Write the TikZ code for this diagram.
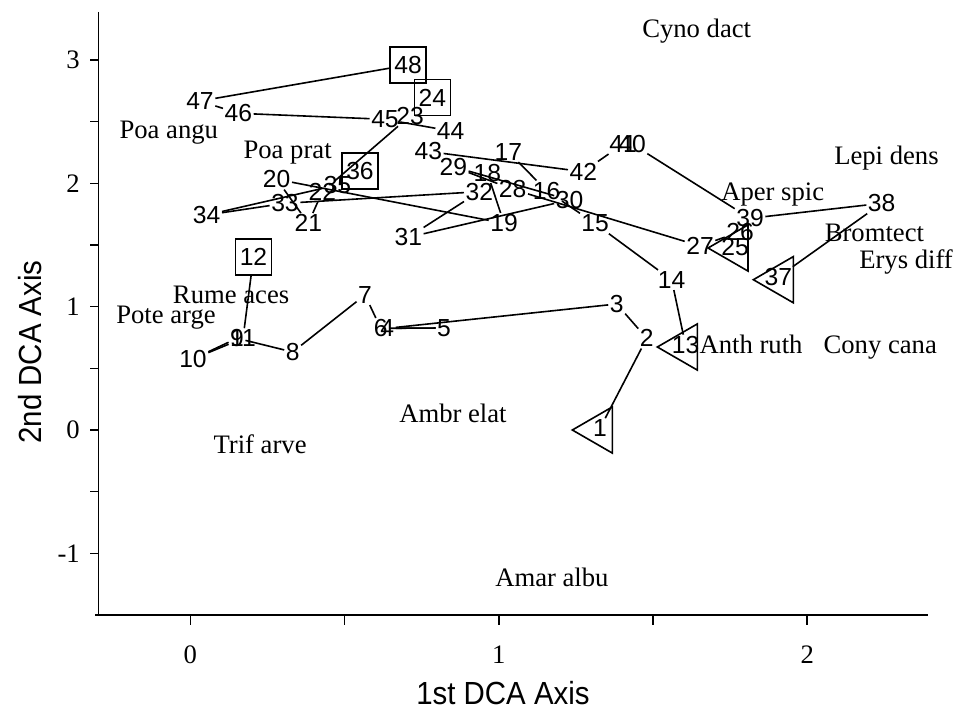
\documentclass[tikz,border=0pt]{standalone}
\usepackage{fontspec}
\setmainfont{Liberation Serif}
\setsansfont{Liberation Sans}
\newfontfamily\axisfont[FakeStretch=0.92]{Liberation Sans}
\usetikzlibrary{shapes.geometric}
\begin{document}
\begin{tikzpicture}[x=0.75pt,y=-0.75pt,
  num/.style={font=\sffamily\fontsize{18.5}{18.5}\selectfont, inner sep=1pt},
  sq/.style={draw, line width=1.2pt, minimum size=27pt, inner sep=0pt},
  tri/.style={draw, line width=1.2pt, regular polygon, regular polygon sides=3, shape border rotate=90, minimum size=40pt, inner sep=0pt},
  spc/.style={font=\rmfamily\fontsize{20}{20}\selectfont, inner sep=0pt, anchor=base west},
  ticklab/.style={font=\rmfamily\fontsize{20}{20}\selectfont, inner sep=0pt},
  axtitle/.style={font=\axisfont\fontsize{24}{24}\selectfont, inner sep=0pt},
  conn/.style={line width=1.2pt},
  axisline/.style={line width=1.1pt}]
\useasboundingbox (0,0) rectangle (957,713);

% axes
\coordinate (ytop) at (98.5,12);
\coordinate (origin) at (98.5,615);
\coordinate (xleft) at (95,615);
\coordinate (xright) at (928,615);
\draw[axisline] (ytop) -- (origin);
\draw[axisline] (xleft) -- (xright);
\foreach \k in {0,...,8} {
  \coordinate (yt\k) at (98.5,60+61.67*\k);
  \coordinate (ytl\k) at (90,60+61.67*\k);
  \draw[axisline] (yt\k) -- (ytl\k);
}
\foreach \k in {0,...,4} {
  \coordinate (xt\k) at (190.4+154.2*\k,615);
  \coordinate (xtl\k) at (190.4+154.2*\k,625);
  \draw[axisline] (xt\k) -- (xtl\k);
}
\node[ticklab, anchor=east] (yl3) at (80,60) {3};
\node[ticklab, anchor=east] (yl2) at (80,183.3) {2};
\node[ticklab, anchor=east] (yl1) at (80,306.7) {1};
\node[ticklab, anchor=east] (yl0) at (80,430) {0};
\node[ticklab, anchor=east] (ylm1) at (80,553.3) {-1};
\node[ticklab] (xl0) at (190.4,655) {0};
\node[ticklab] (xl1) at (498.8,655) {1};
\node[ticklab] (xl2) at (807.2,655) {2};
\node[axtitle] (xtitle) at (503,693) {1st DCA Axis};
\node[axtitle, rotate=90] (ytitle) at (30,352) {2nd DCA Axis};

% species labels
\node[spc] (cyno) at (642,37.3) {Cyno dact};
\node[spc] (poaa) at (119.3,138.3) {Poa angu};
\node[spc] (poap) at (243.3,159) {Poa prat};
\node[spc] (lepi) at (834,165) {Lepi dens};
\node[spc] (aper) at (721,201) {Aper spic};
\node[spc] (brom) at (824.5,241.7) {Bromtect};
\node[spc] (erys) at (859,268.3) {Erys diff};
\node[spc] (rume) at (172.7,303.3) {Rume aces};
\node[spc] (pote) at (116,323.3) {Pote arge};
\node[spc] (anth) at (699.3,353.5) {Anth ruth};
\node[spc] (cony) at (823.3,353.5) {Cony cana};
\node[spc] (ambr) at (399,422.3) {Ambr elat};
\node[spc] (trif) at (213.3,453.3) {Trif arve};
\node[spc] (amar) at (495,586.7) {Amar albu};

% plot numbers
\node[num] (p1) at (600,428.3) {1};
\node[num] (p2) at (646.7,338.3) {2};
\node[num] (p3) at (616.7,304) {3};
\node[num] (p4) at (387.3,328.3) {4};
\node[num] (p5) at (444,328) {5};
\node[num] (p6) at (380.7,328.3) {6};
\node[num] (p7) at (365,295) {7};
\node[num] (p8) at (292.7,352) {8};
\node[num] (p9) at (237,338.3) {9};
\node[num] (p10) at (193,359) {10};
\node[num] (p11) at (243,338.3) {11};
\node[num, sq] (p12) at (253.5,257) {12};
\node[num] (p13) at (685.5,345) {13};
\node[num] (p14) at (671.7,280) {14};
\node[num] (p15) at (595,223.5) {15};
\node[num] (p16) at (546.7,190.7) {16};
\node[num] (p17) at (508.3,152) {17};
\node[num] (p18) at (487.3,172.7) {18};
\node[num] (p19) at (504,223.3) {19};
\node[num] (p20) at (276.7,179.3) {20};
\node[num] (p21) at (308.3,223.3) {21};
\node[num] (p22) at (322.3,191.7) {22};
\node[num] (p23) at (410,116) {23};
\node[num, sq] (p24) at (432.3,97.5) {24};
\node[num] (p25) at (735,246.7) {25};
\node[num] (p26) at (740,231.7) {26};
\node[num] (p27) at (700,246) {27};
\node[num] (p28) at (512.7,189.3) {28};
\node[num] (p29) at (453.3,166.7) {29};
\node[num] (p30) at (569.5,200) {30};
\node[num] (p31) at (408.3,237.3) {31};
\node[num] (p32) at (479.3,191.7) {32};
\node[num] (p33) at (285,203.3) {33};
\node[num] (p34) at (206.7,215) {34};
\node[num] (p35) at (337.5,185) {35};
\node[num, sq] (p36) at (360,171) {36};
\node[num] (p37) at (778.3,277) {37};
\node[num] (p38) at (881.7,203.3) {38};
\node[num] (p39) at (750,218.3) {39};
\node[num] (p40) at (632,144) {40};
\node[num] (p41) at (623,144) {41};
\node[num] (p42) at (583.3,171.7) {42};
\node[num] (p43) at (428.3,151.5) {43};
\node[num] (p44) at (450.7,131) {44};
\node[num] (p45) at (385,119.3) {45};
\node[num] (p46) at (238.3,113.3) {46};
\node[num] (p47) at (200,101) {47};
\node[num, sq] (p48) at (408,65) {48};

% triangle markers
\node[tri] (t1) at (599,430) {};
\node[tri] (t13) at (684,347) {};
\node[tri] (t25) at (734.7,248) {};
\node[tri] (t37) at (780,279.7) {};

% trajectories
\draw[conn] (p1) -- (p2);
\draw[conn] (p2) -- (p3);
\draw[conn] (p3) -- (p4);
\draw[conn] (p4) -- (p5);
\draw[conn] (p5) -- (p6);
\draw[conn] (p6) -- (p7);
\draw[conn] (p7) -- (p8);
\draw[conn] (p8) -- (p9);
\draw[conn] (p9) -- (p10);
\draw[conn] (p10) -- (p11);
\draw[conn] (p11) -- (p12);
\draw[conn] (p13) -- (p14);
\draw[conn] (p14) -- (p15);
\draw[conn] (p15) -- (p16);
\draw[conn] (p16) -- (p17);
\draw[conn] (p18) -- (p19);
\draw[conn] (p19) -- (p20);
\draw[conn] (p20) -- (p21);
\draw[conn] (p21) -- (p22);
\draw[conn] (p22) -- (p23);
\draw[conn] (p26) -- (p27);
\draw[conn] (p27) -- (p28);
\draw[conn] (p28) -- (p29);
\draw[conn] (p29) -- (p30);
\draw[conn] (p30) -- (p31);
\draw[conn] (p31) -- (p32);
\draw[conn] (p32) -- (p33);
\draw[conn] (p33) -- (p34);
\draw[conn] (p34) -- (p35);
\draw[conn] (p37) -- (p38);
\draw[conn] (p38) -- (p39);
\draw[conn] (p39) -- (p40);
\draw[conn] (p41) -- (p42);
\draw[conn] (p42) -- (p43);
\draw[conn] (p44) -- (p45);
\draw[conn] (p45) -- (p46);
\draw[conn] (p46) -- (p47);
\draw[conn] (p47) -- (p48);
\end{tikzpicture}
\end{document}
